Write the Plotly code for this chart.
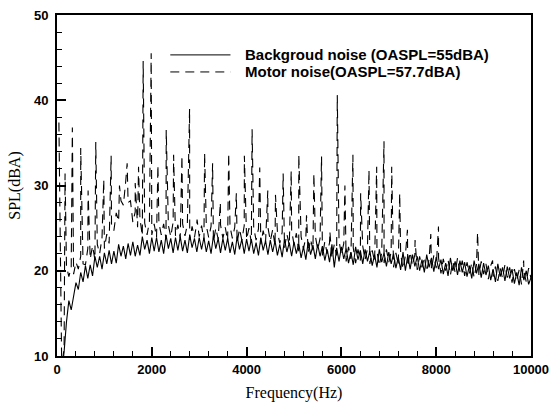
import plotly.graph_objects as go

# ---------------- data ----------------
freq_grid = list(range(100, 10001, 50))  # sampling grid, Hz

background_spl = [
    8.0, 10.5, 14.0, 16.5, 15.4, 16.8, 18.6, 17.8, 19.8, 18.7,
    20.6, 19.1, 20.7, 19.4, 21.7, 20.4, 21.7, 20.2, 22.1, 20.8,
    22.4, 20.8, 22.3, 20.9, 23.1, 21.7, 22.9, 21.4, 23.2, 21.8,
    23.4, 21.7, 23.0, 21.8, 24.0, 22.5, 23.6, 22.0, 23.9, 22.3,
    23.9, 22.2, 23.6, 22.0, 24.2, 22.6, 23.8, 22.1, 23.9, 22.4,
    24.0, 22.3, 23.6, 22.1, 24.2, 22.7, 23.8, 22.2, 23.9, 22.5,
    23.9, 22.2, 23.5, 22.0, 24.1, 22.6, 23.8, 22.1, 23.8, 22.4,
    23.8, 22.1, 23.4, 21.9, 24.0, 22.5, 23.7, 22.0, 23.7, 22.3,
    23.7, 22.0, 23.3, 21.8, 23.9, 22.4, 23.5, 21.9, 23.6, 22.2,
    23.5, 21.8, 23.1, 21.6, 23.7, 22.2, 23.3, 21.7, 23.4, 22.0,
    23.2, 21.5, 22.8, 21.3, 23.4, 21.9, 23.0, 21.4, 23.1, 21.7,
    22.9, 21.2, 22.5, 21.0, 23.1, 20.4, 22.7, 21.1, 22.8, 21.4,
    22.6, 20.9, 22.2, 20.7, 22.8, 21.3, 22.4, 20.8, 22.5, 21.1,
    22.3, 20.6, 21.9, 20.4, 22.5, 21.0, 22.1, 20.5, 22.2, 20.8,
    22.0, 20.3, 21.6, 20.1, 22.2, 20.0, 21.8, 20.2, 21.9, 20.5,
    21.7, 20.0, 21.3, 19.8, 21.9, 20.4, 21.5, 19.9, 21.6, 20.2,
    21.3, 19.6, 20.9, 19.4, 21.5, 20.0, 21.1, 19.5, 21.2, 19.8,
    21.0, 19.3, 20.6, 19.1, 21.2, 19.7, 20.8, 19.2, 20.9, 19.5,
    20.6, 18.9, 20.2, 18.7, 20.8, 19.3, 20.4, 18.8, 20.5, 19.1,
    20.2, 18.5, 19.8, 18.3, 20.4, 18.9, 20.0, 18.4, 19.2,
]

motor_broadband_spl = [
    8.5, 11.0, 20.5, 19.3, 20.4, 19.6, 21.0, 20.2, 21.7, 20.8,
    20.7, 22.6, 21.4, 22.9, 21.3, 23.1, 22.0, 23.9, 22.6, 24.3,
    23.2, 25.5, 24.7, 26.8, 25.8, 28.2, 27.7, 30.5, 28.0, 28.2,
    25.7, 26.9, 25.1, 26.1, 24.1, 25.6, 24.2, 25.8, 24.2, 25.5,
    23.9, 25.6, 24.2, 25.5, 23.7, 25.3, 24.0, 25.7, 24.1, 25.4,
    23.8, 25.5, 24.1, 25.4, 23.6, 25.2, 23.9, 25.6, 24.0, 25.3,
    23.6, 25.3, 23.9, 25.2, 23.4, 25.0, 23.7, 25.4, 23.8, 25.1,
    23.5, 25.2, 23.8, 25.1, 23.3, 24.9, 23.6, 25.3, 23.7, 25.0,
    23.3, 25.0, 23.6, 24.9, 23.1, 24.7, 23.4, 25.1, 23.5, 24.8,
    22.9, 24.6, 23.2, 24.5, 22.7, 24.3, 23.0, 24.7, 23.1, 24.4,
    22.3, 24.0, 22.6, 23.9, 22.1, 23.7, 22.4, 24.1, 22.5, 23.8,
    21.7, 23.4, 22.0, 23.3, 21.5, 23.1, 21.8, 23.5, 21.9, 23.2,
    21.1, 22.8, 21.4, 22.7, 20.9, 22.5, 21.2, 22.9, 21.3, 22.6,
    20.8, 22.4, 21.1, 22.3, 20.6, 22.1, 20.9, 22.5, 21.0, 22.2,
    20.4, 22.1, 20.7, 22.0, 20.2, 21.8, 20.5, 22.2, 20.6, 21.9,
    20.1, 21.7, 20.4, 21.6, 19.9, 21.4, 20.2, 21.8, 20.3, 21.5,
    19.7, 21.4, 20.0, 21.3, 19.5, 21.1, 19.8, 21.5, 19.9, 21.2,
    19.4, 21.0, 19.7, 20.9, 19.2, 20.7, 19.5, 21.1, 19.6, 20.8,
    19.0, 20.6, 19.3, 20.5, 18.8, 20.3, 19.1, 20.7, 19.2, 20.4,
    18.6, 20.2, 18.9, 20.1, 18.4, 19.9, 18.7, 20.3, 19.1,
]

# motor tonal peaks (Hz, dBA)
peak_freq = [
    40, 170, 324, 500, 656, 818, 987, 1142, 1318, 1480, 1650, 1720,
    1818, 1987, 2129, 2304, 2460, 2636, 2797, 2955, 3114, 3283, 3446,
    3622, 3784, 3953, 4116, 4277, 4447, 4609, 4771, 4941, 5101, 5264,
    5419, 5581, 5757, 5913, 6074, 6243, 6406, 6582, 6744, 6899, 7061,
    7230, 7393, 7554, 7886, 8048, 8873, 9190, 9845,
]
peak_spl = [
    37.4, 31.4, 36.8, 34.4, 29.4, 35.1, 30.7, 33.5, 30.0, 32.6, 30.3, 32.2,
    44.6, 45.5, 32.4, 36.5, 33.6, 33.5, 39.0, 26.0, 33.8, 32.6, 28.0,
    33.8, 29.1, 33.5, 36.6, 32.1, 29.4, 28.9, 31.4, 31.7, 33.6, 26.5,
    31.4, 33.4, 24.6, 40.6, 30.0, 33.6, 29.1, 31.8, 32.2, 35.2, 32.2,
    29.1, 24.8, 23.6, 24.3, 25.2, 24.5, 21.2, 21.2,
]

legend_names = ["Backgroud noise (OASPL=55dBA)", "Motor noise(OASPL=57.7dBA)"]
x_tick_vals = [0, 2000, 4000, 6000, 8000, 10000]
x_tick_text = ["0", "2000", "4000", "6000", "8000", "10000"]
y_tick_vals = [10, 20, 30, 40, 50]
y_tick_text = ["10", "20", "30", "40", "50"]

# merge broadband + tonal peaks for the motor spectrum
motor_pts = sorted(list(zip(freq_grid, motor_broadband_spl)) + list(zip(peak_freq, peak_spl)))
motor_x = [p[0] for p in motor_pts]
motor_y = [p[1] for p in motor_pts]

DASH = "9px,6px"

fig = go.Figure()
fig.add_trace(go.Scatter(x=freq_grid, y=background_spl, mode="lines",
                         line=dict(color="black", width=1.1), name=legend_names[0],
                         showlegend=False))
fig.add_trace(go.Scatter(x=motor_x, y=motor_y, mode="lines",
                         line=dict(color="black", width=1.1, dash=DASH), name=legend_names[1],
                         showlegend=False))

# manual legend (line samples + bold labels)
leg_y = [0.883, 0.833]
leg_dash = ["solid", DASH]
for i in range(2):
    fig.add_shape(type="line", xref="paper", yref="paper", x0=0.239, x1=0.366,
                  y0=leg_y[i], y1=leg_y[i],
                  line=dict(color="black", width=1, dash=leg_dash[i]))
    fig.add_annotation(xref="paper", yref="paper", x=0.393, y=leg_y[i],
                       text="<b>" + legend_names[i] + "</b>",
                       showarrow=False, xanchor="left", yanchor="middle",
                       font=dict(family="Liberation Sans", size=15, color="black"))

tick_font = dict(family="Liberation Sans", size=13, color="black")
axis_common = dict(showgrid=False, zeroline=False, showline=True, linecolor="black",
                   linewidth=2, mirror=True, ticks="inside", ticklen=9, tickwidth=1.5,
                   tickcolor="black", tickfont=tick_font, ticklabeloverflow="allow",
                   automargin=False)

fig.update_xaxes(range=[0, 10000], tickvals=x_tick_vals,
                 ticktext=["<b>" + t + "</b>" for t in x_tick_text],
                 minor=dict(dtick=400, ticks="inside", ticklen=5, tickcolor="black", tickwidth=1),
                 title=dict(text="Frequency(Hz)", font=dict(family="Liberation Serif", size=16, color="black"),
                            standoff=11),
                 **axis_common)
fig.update_yaxes(range=[10, 50], tickvals=y_tick_vals,
                 ticktext=["<b>" + t + "</b>" for t in y_tick_text],
                 minor=dict(dtick=2, ticks="inside", ticklen=5, tickcolor="black", tickwidth=1),
                 title=dict(text="SPL(dBA)", font=dict(family="Liberation Serif", size=16, color="black"),
                            standoff=9),
                 ticklabelstandoff=4,
                 **axis_common)

fig.update_layout(width=549, height=402, margin=dict(l=57, r=18, t=15, b=46, autoexpand=False),
                  plot_bgcolor="white", paper_bgcolor="white", showlegend=False)

fig.write_html("out.html")
